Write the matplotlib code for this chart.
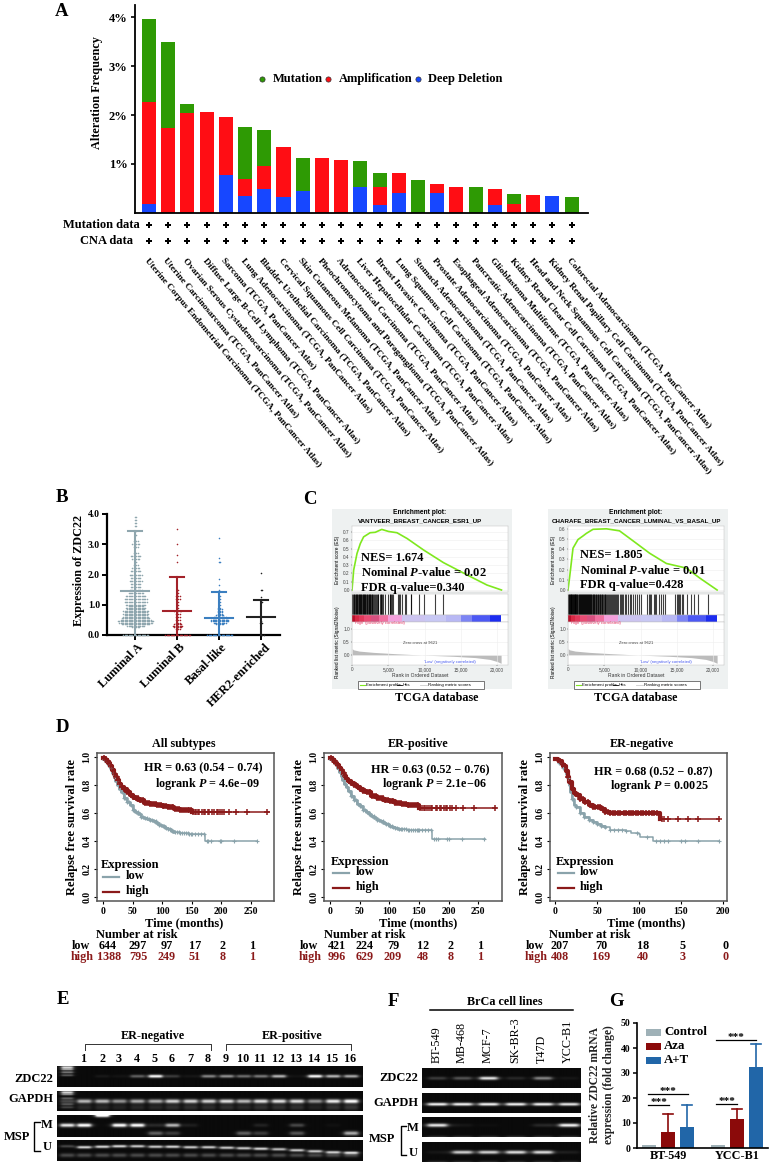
import numpy as np
import matplotlib
matplotlib.use("Agg")
import matplotlib.pyplot as plt
from matplotlib.patches import Rectangle

plt.rcParams["font.family"] = ["Liberation Serif", "DejaVu Serif"]
plt.rcParams["mathtext.fontset"] = "custom"
plt.rcParams["mathtext.rm"] = "Liberation Serif:bold"
plt.rcParams["mathtext.bfit"] = "Liberation Serif:italic:bold"
plt.rcParams["axes.unicode_minus"] = True

W, H = 770, 1168
DARKRED = "#8b1a1a"
SANS = ["Liberation Sans", "DejaVu Sans"]

# ---- A: alteration frequency
cancers = ["Uterine Corpus Endometrial Carcinoma", "Uterine Carcinosarcoma",
           "Ovarian Serous Cystadenocarcinoma", "Diffuse Large B-Cell Lymphoma",
           "Sarcoma", "Lung Adenocarcinoma", "Bladder Urothelial Carcinoma",
           "Cervical Squamous Cell Carcinoma", "Skin Cutaneous Melanoma",
           "Pheochromocytoma and Paraganglioma", "Adrenocortical Carcinoma",
           "Liver Hepatocellular Carcinoma", "Breast Invasive Carcinoma",
           "Lung Squamous Cell Carcinoma", "Stomach Adenocarcinoma",
           "Prostate Adenocarcinoma", "Esophageal Adenocarcinoma",
           "Pancreatic Adenocarcinoma", "Glioblastoma Multiforme",
           "Kidney Renal Clear Cell Carcinoma", "Head and Neck Squamous Cell Carcinoma",
           "Kidney Renal Papillary Cell Carcinoma", "Colorectal Adenocarcinoma"]
deep_del = [0.18, 0, 0, 0, 0.77, 0.34, 0.48, 0.33, 0.44, 0, 0, 0.53, 0.17, 0.40, 0, 0.40, 0, 0, 0.16, 0, 0, 0.34, 0]
amplif = [2.08, 1.74, 2.04, 2.07, 1.18, 0.35, 0.48, 1.01, 0, 1.12, 1.09, 0, 0.37, 0.41, 0, 0.20, 0.54, 0, 0.33, 0.19, 0.37, 0, 0]
mutation = [1.69, 1.76, 0.18, 0, 0, 1.07, 0.73, 0, 0.68, 0, 0, 0.53, 0.28, 0, 0.67, 0, 0, 0.54, 0, 0.20, 0, 0, 0.33]

# ---- B: expression per subtype (level, dots at that level)
subtypes = ["Luminal A", "Luminal B", "Basal-like", "HER2-enriched"]
sub_colors = ["#8fa6ae", "#a3222a", "#3b7fc0", "#222222"]
lum_a_levels = [0, .25, .3, .35, .4, .45, .5, .55, .6, .65, .7, .75, .8, .85, .9, .95, 1.0, 1.1, 1.2, 1.3, 1.4, 1.5, 1.6, 1.7, 1.8, 1.9, 2.0, 2.1, 2.2, 2.3, 2.4, 2.5, 2.6, 2.7, 2.9, 3.0, 3.1, 3.3, 3.45, 3.6, 3.7, 3.8, 3.9]
lum_a_counts = [20, 6, 14, 22, 26, 28, 24, 22, 20, 18, 20, 18, 20, 14, 16, 12, 16, 18, 18, 16, 12, 10, 8, 8, 10, 8, 10, 8, 6, 4, 2, 6, 8, 4, 4, 6, 4, 2, 3, 2, 2, 2, 2]
lum_b_levels = [0, .2, .25, .3, .35, .4, .5, .6, .7, .8, .9, 1.0, 1.1, 1.2, 1.3, 1.4, 1.5, 2.4, 2.65, 3.0, 3.5]
lum_b_counts = [20, 4, 6, 8, 6, 4, 4, 4, 4, 6, 2, 2, 2, 4, 4, 2, 2, 1, 1, 1, 1]
basal_levels = [0, .35, .4, .45, .5, .55, .6, .65, .7, .75, .8, .85, .9, 1.0, 1.1, 1.2, 1.3, 1.5, 1.65, 1.85, 2.4, 2.55, 3.2]
basal_counts = [20, 6, 10, 14, 14, 12, 10, 6, 4, 4, 4, 4, 3, 2, 2, 2, 2, 1, 1, 1, 2, 1, 1]
her2_levels = [0, .4, .45, .6, 1.1, 1.25, 1.5, 2.05]
her2_counts = [4, 3, 1, 1, 2, 1, 2, 1]
sub_means = [1.45, 0.78, 0.56, 0.58]
sub_tops = [3.43, 1.92, 1.42, 1.17]

# ---- C: GSEA curves
es1_rank = [0, 230, 690, 1150, 1600, 2500, 3200, 4100, 5050, 6200, 7600, 9900, 12600, 15900, 18600, 20600]
es1_val = [0, .24, .44, .56, .64, .69, .695, .73, .705, .69, .62, .48, .33, .18, .06, 0]
es2_rank = [0, 230, 690, 1380, 2070, 2530, 3450, 5290, 7100, 9000, 11260, 13560, 16300, 18200, 20550]
es2_val = [0, .13, .41, .495, .53, .555, .595, .60, .58, .48, .36, .26, .215, .115, 0]
hits1 = [60, 150, 230, 300, 420, 500, 560, 640, 700, 780, 900, 960, 1040, 1130, 1180, 1260, 1400, 1450, 1530, 1600, 1700, 1780, 1850, 1900, 2000, 2080, 2150, 2280, 2350, 2420, 2500, 2650, 2700, 2780, 2900, 3000, 3200, 3250, 3380, 3600, 3650, 3900, 3980, 4050, 4200, 4250, 4500, 4950, 5200, 5280, 5400, 5500, 5600, 6300, 6500, 6600, 6950, 7300, 7400, 8100, 8200, 9200, 9980, 11400, 12500]
hits2 = [40, 100, 170, 230, 290, 360, 420, 480, 540, 600, 660, 720, 780, 850, 900, 960, 1030, 1090, 1160, 1210, 1300, 1420, 1480, 1550, 1620, 1680, 1750, 1810, 1880, 1950, 2010, 2080, 2150, 2220, 2290, 2350, 2420, 2500, 2570, 2640, 2700, 2780, 2850, 2920, 3000, 3070, 3150, 3220, 3300, 3380, 3450, 3530, 3620, 3700, 3800, 3900, 3980, 4070, 4150, 4250, 4350, 4430, 4520, 4620, 4700, 4800, 4950, 5050, 5150, 5250, 5400, 5520, 5650, 5780, 5900, 6050, 6180, 6300, 6450, 6600, 6700, 6900, 7100, 7350, 7450, 7600, 7900, 8050, 8300, 8500, 8750, 9000, 9300, 9450, 9800, 10000, 10900, 11100, 11300, 11500, 11800, 12000, 12150, 12500, 12800, 13100, 13300, 14800, 15000, 15150, 15300, 15500, 15700, 15900, 16400, 16900, 17400, 17900, 19300]
band_edges = [0, 400, 1000, 1700, 2600, 3700, 5000, 6900, 10000, 13000, 15000, 16500, 19000, 20600]
band_colors = ["#b8102a", "#d82844", "#e0385a", "#e84c74", "#d85080", "#f070a0", "#f4a0dc", "#ccc4f0", "#c8c8f4", "#b8b8f4", "#7c84f4", "#4c58f4", "#1c2cf0"]
metric_rank = [0, 200, 1000, 3000, 6000, 9621, 14000, 17000, 19000, 20000, 20550]
metric_val = [.25, .2, .15, .1, .05, 0, -.05, -.1, -.17, -.25, -.32]

# ---- D: survival curves
km_t = [0, 3, 6, 9, 12, 15, 18, 21, 24, 27, 30, 35, 40, 45, 50, 55, 60, 65, 70, 75, 80, 85, 90, 95, 100, 105, 110, 115, 120, 130, 145, 171, 172, 261]
all_low = [.99, .98, .965, .945, .92, .89, .86, .83, .80, .775, .75, .71, .68, .655, .625, .605, .59, .575, .565, .555, .55, .54, .53, .515, .505, .495, .485, .47, .465, .455, .45, .45, .40, .40]
pos_low = [.99, .985, .97, .95, .925, .895, .865, .84, .81, .785, .76, .72, .69, .665, .65, .625, .605, .595, .58, .565, .55, .54, .53, .52, .51, .50, .49, .485, .485, .48, .48, .48, .415, .415]
km_th = [0, 3, 6, 9, 12, 15, 18, 21, 24, 27, 30, 35, 40, 45, 50, 55, 60, 70, 80, 90, 100, 110, 120, 130, 145, 150, 280]
all_high = [.995, .985, .975, .955, .935, .905, .88, .855, .835, .81, .79, .77, .75, .73, .715, .705, .695, .675, .665, .655, .65, .64, .63, .625, .625, .605, .605]
pos_high = [.995, .985, .975, .96, .945, .925, .905, .885, .865, .845, .83, .815, .80, .79, .775, .76, .75, .72, .705, .695, .685, .67, .665, .66, .655, .635, .635]
neg_low_t = [0, 3, 5, 8, 10, 13, 15, 17, 18, 20, 23, 25, 30, 35, 40, 45, 50, 55, 60, 65, 85, 90, 100, 101, 115, 117, 195]
neg_low = [.99, .98, .96, .94, .92, .88, .85, .80, .75, .70, .66, .64, .60, .57, .55, .535, .52, .51, .50, .48, .47, .455, .45, .43, .43, .40, .40]
neg_high_t = [0, 3, 5, 8, 10, 13, 15, 17, 20, 23, 25, 30, 35, 40, 45, 50, 55, 60, 65, 70, 120, 125, 195]
neg_high = [.99, .98, .97, .95, .94, .90, .86, .82, .77, .745, .73, .70, .68, .66, .645, .64, .63, .61, .60, .60, .60, .56, .56]
marks_early = [2, 5, 8, 11, 14, 17, 20, 23, 26, 29, 32, 35, 38, 41, 44, 47, 50, 53, 56, 59, 62, 65, 68, 71, 74, 77, 80, 83, 86, 89, 92, 95, 98, 101, 104, 107, 110, 113, 116, 119, 122, 125, 128, 131, 134, 137, 140, 143, 146, 149]
marks_high_tail = [152, 155, 158, 160, 163, 167, 170, 172, 178, 180, 185, 188, 192, 195, 198, 202, 205, 213, 225, 243, 278]
marks_low_tail = [150, 155, 160, 165, 170, 175, 178, 182, 197, 200, 222, 260]
neg_marks_high = [3, 6, 9, 12, 15, 18, 21, 24, 27, 30, 33, 36, 39, 42, 45, 48, 51, 54, 57, 60, 63, 66, 69, 72, 75, 78, 82, 85, 88, 90, 93, 96, 99, 102, 105, 108, 112, 115, 118, 121, 128, 130, 135, 147, 158, 170, 195]
neg_marks_low = [5, 10, 15, 20, 25, 30, 35, 40, 45, 50, 55, 60, 65, 70, 75, 80, 85, 98, 110, 120, 125, 130, 135, 150, 155, 170, 195]
months = [0, 50, 100, 150, 200, 250]
all_risk_low = ["644", "297", "97", "17", "2", "1"]
all_risk_high = ["1388", "795", "249", "51", "8", "1"]
pos_risk_low = ["421", "224", "79", "12", "2", "1"]
pos_risk_high = ["996", "629", "209", "48", "8", "1"]
neg_risk_low = ["207", "70", "18", "5", "0"]
neg_risk_high = ["408", "169", "40", "3", "0"]

# ---- E/F: band intensities per lane (lane 0 in E is the first unnumbered well)
e_zdc22 = [0, 0, .06, .04, .35, 1, .2, .05, .5, .55, .4, .45, .7, .03, 1, .7, .65]
e_gapdh = [.25, .7, .7, .55, .65, .65, .8, .8, .8, .85, .7, .85, .85, .85, .55, .9, 1]
e_msp_m = [.9, 1, 0, 1, 1, .12, .7, .08, 0, 0, 0, .1, 0, .25, 0, .03, 0]
e_msp_low = [0, 0, 0, 0, 0, .35, .2, 0, 0, 0, .35, .2, 0, .3, 0, 0, .65]
e_msp_u = [.25, .85, .85, .85, .8, .8, .85, .8, .8, .8, .8, .85, .75, .8, .8, .8, .85]
f_lines = ["BT-549", "MB-468", "MCF-7", "SK-BR-3", "T47D", "YCC-B1"]
f_zdc22 = [.2, .3, .9, .12, .5, .05]
f_gapdh = [.95, .95, .95, .95, .95, .9]
f_msp_m = [.9, .05, .02, 0, .12, .95]
f_msp_u = [.05, .8, .8, .85, .85, .08]

# ---- G: qPCR
g_groups = ["BT-549", "YCC-B1"]
g_treat = ["Control", "Aza", "A+T"]
g_colors = ["#9fb1b7", "#8b0a0a", "#2166a8"]
g_means = [[1.1, 6.3, 8.6], [1.1, 11.8, 32.3]]
g_tops = [[1.1, 13.8, 17.2], [1.1, 15.8, 41.8]]

fig = plt.figure(figsize=(W / 100, H / 100), dpi=100)


def px_axes(x0, y0, x1, y1, **kw):
    return fig.add_axes([x0 / W, 1 - y1 / H, (x1 - x0) / W, (y1 - y0) / H], **kw)


# full page layers, one below the plots and one above for labels
bg = px_axes(0, 0, W, H, zorder=0)
bg.set_xlim(0, W); bg.set_ylim(H, 0); bg.axis("off")
ov = px_axes(0, 0, W, H, zorder=10)
ov.set_xlim(0, W); ov.set_ylim(H, 0); ov.axis("off")
ov.patch.set_alpha(0)


def label(x, y, s, size=8.5, ha="center", va="center", weight="bold", **kw):
    return ov.text(x, y, s, fontsize=size, ha=ha, va=va, fontweight=weight, **kw)


for s, x, y in [("A", 62, 11), ("B", 62, 498), ("C", 310, 500), ("D", 62, 727),
                ("E", 63, 1000), ("F", 393, 1002), ("G", 616, 1002)]:
    label(x, y, s, size=13.5)

# ---------- panel A
ax = px_axes(134.5, 5, 588, 213, zorder=2)
xs = np.arange(len(cancers))
dd, am, mu = np.array(deep_del), np.array(amplif), np.array(mutation)
ax.bar(xs, dd, 0.73, color="#1747ff")
ax.bar(xs, am, 0.73, bottom=dd, color="#ff0d14")
ax.bar(xs, mu, 0.73, bottom=dd + am, color="#2e9a04")
ax.set_xlim(-0.755, 22.85)
ax.set_ylim(0, 208 / 49)
ax.set_yticks([1, 2, 3, 4])
ax.set_yticklabels(["1%", "2%", "3%", "4%"], fontweight="bold", fontsize=9)
ax.set_xticks([])
for sp in ["top", "right"]:
    ax.spines[sp].set_visible(False)
for sp in ["left", "bottom"]:
    ax.spines[sp].set_linewidth(1.3)
ax.tick_params(axis="y", length=3, width=1.2, pad=2)
label(97, 93, "Alteration Frequency", size=8.8, rotation=90)
trans = ax.get_xaxis_transform()
for y_px in [225, 241]:
    ax.plot(xs, [(213 - y_px) / 208] * len(xs), ls="", marker="P", ms=4.5, color="black",
            mew=0, transform=trans, clip_on=False)
for i, name in enumerate(cancers):
    ax.text(i - 0.16, (213 - 259) / 208, name + " (TCGA, PanCancer Atlas)", transform=trans,
            rotation=-50, rotation_mode="anchor", ha="left", va="center",
            fontsize=6.75, fontweight="bold")
label(140, 225, "Mutation data", ha="right", size=9)
label(133, 241, "CNA data", ha="right", size=9)
for x, col, txt in [(262, "#2e9a04", "Mutation"), (328, "#ff0d14", "Amplification"), (418, "#1747ff", "Deep Deletion")]:
    ov.scatter([x], [79], s=14, color=col, edgecolor="#333333", linewidth=0.5)
    label(x + 10.5, 79, txt, ha="left", size=9)

# ---------- panel B
ax = px_axes(107, 514, 280, 635, zorder=2)
groups = [(lum_a_levels, lum_a_counts), (lum_b_levels, lum_b_counts),
          (basal_levels, basal_counts), (her2_levels, her2_counts)]
for i, (levels, counts) in enumerate(groups):
    for lev, n in zip(levels, counts):
        offs = np.array([(k + 1) // 2 * (1 if k % 2 else -1) for k in range(n)]) * 1.3 / 42
        ax.scatter(i + offs, [lev] * n, s=1.3, color=sub_colors[i], linewidth=0, zorder=4, clip_on=False)
    ax.plot([i, i], [0, sub_tops[i]], color=sub_colors[i], lw=1.5, zorder=3, clip_on=False)
    ax.plot([i - .17, i + .17], [sub_tops[i]] * 2, color=sub_colors[i], lw=1.5, zorder=3)
    ax.plot([i - .34, i + .34], [sub_means[i]] * 2, color=sub_colors[i], lw=1.5, zorder=3)
ax.set_xlim((107 - 135) / 42, (280 - 135) / 42)
ax.set_ylim(0, 4)
ax.set_yticks([0, 1, 2, 3, 4])
ax.set_yticklabels(["0.0", "1.0", "2.0", "3.0", "4.0"], fontsize=7, fontweight="bold")
ax.set_xticks(range(4))
ax.set_xticklabels([])
ax.patch.set_alpha(0)
for sp in ["top", "right"]:
    ax.spines[sp].set_visible(False)
for sp in ["left", "bottom"]:
    ax.spines[sp].set_linewidth(1.6)
ax.tick_params(length=3.5, width=1.4, pad=1.5)
label(79, 570, "Expression of ZDC22", size=8.7, rotation=90)
for x, name in zip([137, 179, 221, 265], subtypes):
    label(x, 641, name, size=9, ha="right", va="top", rotation=45, rotation_mode="anchor")


# ---------- panel C
def gsea(dx, rank, es, hits, es_ticks, es_per_px, title):
    bg.add_patch(Rectangle((332 + dx, 509), 180, 180, color="#eef1f1", lw=0))
    r_max = 21500
    top = px_axes(352 + dx, 526, 508 + dx, 592, zorder=2)
    top.plot(rank, es, color="#7fe81e", lw=1.2)
    top.set_xlim(0, r_max)
    top.set_ylim(-2 * es_per_px, 64 * es_per_px)
    top.set_yticks(es_ticks)
    top.set_yticklabels(["%.1f" % v for v in es_ticks], fontsize=3.4, family=SANS, color="#444444")
    top.set_xticks([])
    top.grid(color="#eeeeee", lw=0.4)
    strip = px_axes(352 + dx, 594, 508 + dx, 615, zorder=2)
    strip.vlines(hits, 0, 1, color="black", lw=0.8, alpha=0.75)
    strip.set_xlim(0, r_max); strip.set_ylim(0, 1)
    strip.set_xticks([]); strip.set_yticks([])
    band = px_axes(352 + dx, 615, 508 + dx, 622, zorder=2)
    for k, c in enumerate(band_colors):
        band.barh(0, band_edges[k + 1] - band_edges[k], 1, left=band_edges[k], color=c, lw=0)
    band.set_xlim(0, r_max); band.set_ylim(-.5, .5)
    band.set_xticks([]); band.set_yticks([])
    low = px_axes(352 + dx, 622, 508 + dx, 665, zorder=2)
    low.fill_between(metric_rank, metric_val, 0, color="#bcbcbc", lw=0)
    low.set_xlim(0, r_max)
    low.set_ylim(-10 / 26, 33 / 26)
    low.set_yticks([0, .5, 1])
    low.set_yticklabels(["0.0", "0.5", "1.0"], fontsize=3.4, family=SANS, color="#444444")
    low.set_xticks([0, 5000, 10000, 15000, 20000])
    low.set_xticklabels(["0", "5,000", "10,000", "15,000", "20,000"], fontsize=3.4, family=SANS, color="#444444")
    low.grid(color="#eeeeee", lw=0.4)
    for a in [top, strip, band, low]:
        a.tick_params(length=1, width=0.3, pad=0.6)
        for sp in a.spines.values():
            sp.set_linewidth(0.3)
            sp.set_color("#bbbbbb")
    label(420 + dx, 513, "Enrichment plot:", size=4.8, family=SANS)
    label(420 + dx, 521, title, size=4.5, family=SANS)
    label(338 + dx, 560, "Enrichment score (ES)", size=3.4, rotation=90, family=SANS, weight="normal")
    label(338 + dx, 642, "Ranked list metric (Signal2Noise)", size=3.4, rotation=90, family=SANS, weight="normal")
    label(354 + dx, 623, "'High' (positively correlated)", size=3.1, ha="left", color="#e8406c", family=SANS, weight="normal")
    label(420 + dx, 643, "Zero cross at 9621", size=3, family=SANS, weight="normal", color="#444444")
    label(450 + dx, 662, "'Low' (negatively correlated)", size=3.1, color="#4a5cf0", family=SANS, weight="normal")
    label(420 + dx, 675.5, "Rank in Ordered Dataset", size=3.6, family=SANS, weight="normal", color="#333333")
    ov.add_patch(Rectangle((358 + dx, 681), 126, 7.5, fc="white", ec="#444444", lw=0.5))
    ov.plot([360 + dx, 365 + dx], [684.7] * 2, color="#7fe81e", lw=0.8)
    label(366 + dx, 684.7, "Enrichment profile", size=3.2, ha="left", family=SANS, weight="normal")
    ov.plot([397 + dx, 402 + dx], [684.7] * 2, color="black", lw=0.6)
    label(403 + dx, 684.7, "Hits", size=3.2, ha="left", family=SANS, weight="normal")
    ov.plot([420 + dx, 427 + dx], [684.7] * 2, color="#cccccc", lw=0.6)
    label(428 + dx, 684.7, "Ranking metric scores", size=3.2, ha="left", family=SANS, weight="normal")
    label(437 + dx * 199 / 216, 698, "TCGA database", size=8.7)


gsea(0, es1_rank, es1_val, hits1, [0, .1, .2, .3, .4, .5, .6, .7], .1 / 8.3, "VANTVEER_BREAST_CANCER_ESR1_UP")
gsea(216, es2_rank, es2_val, hits2, [0, .1, .2, .3, .4, .5, .6], .1 / 10.2, "CHARAFE_BREAST_CANCER_LUMINAL_VS_BASAL_UP")
for x, y0, txt in [(361, 558, ("NES= 1.674", "0.02", "0.340")), (580, 555, ("NES= 1.805", "0.01", "0.428"))]:
    label(x, y0, txt[0], size=9, ha="left")
    label(x, y0 + 15, r"Nominal $\mathbfit{P}$-value = " + txt[1], size=9, ha="left")
    label(x, y0 + 30, "FDR q-value=" + txt[2], size=9, ha="left")


# ---------- panel D
def step_at(t, s, when):
    idx = np.searchsorted(t, when, side="right") - 1
    return np.array(s)[idx]


def km(box, xlim, xticks, t_low, s_low, t_high, s_high, m_low, m_high, cut_low, cut_high):
    ax = px_axes(*box, zorder=2)
    # censor ticks are so dense early on that the curves read as thick bands
    k = np.array(t_low) <= cut_low
    ax.step(t_low, s_low, where="post", color="#8aa3ab", lw=1.1)
    ax.step(np.array(t_low)[k], np.array(s_low)[k], where="post", color="#8aa3ab", lw=1.9)
    k = np.array(t_high) <= cut_high
    ax.step(t_high, s_high, where="post", color=DARKRED, lw=1.1)
    ax.step(np.array(t_high)[k], np.array(s_high)[k], where="post", color=DARKRED, lw=3)
    ax.plot(m_low, step_at(t_low, s_low, m_low), ls="", marker="+", ms=3, mew=0.8, color="#8aa3ab")
    ax.plot(m_high, step_at(t_high, s_high, m_high), ls="", marker="+", ms=4.5, mew=1.1, color=DARKRED)
    ax.set_xlim(*xlim)
    ax.set_ylim(-0.03, 1.03)
    ax.set_xticks(xticks)
    ax.set_xticklabels([str(v) for v in xticks], fontsize=7, fontweight="bold")
    ax.set_yticks([0, .2, .4, .6, .8, 1])
    ax.set_yticklabels(["0.0", "0.2", "0.4", "0.6", "0.8", "1.0"], fontsize=7, fontweight="bold", rotation=90, va="center")
    ax.tick_params(length=2.5, width=0.8, pad=1.5)
    for sp in ax.spines.values():
        sp.set_linewidth(1.1)
        sp.set_color("#555555")
    ax.set_ylabel("Relapse free survival rate", fontsize=9, fontweight="bold", labelpad=3)
    return ax


y_box = (753, 901)
km((97, y_box[0], 274, y_box[1]), (-10, 289), months, km_t, all_low, km_th, all_high,
   marks_early + marks_low_tail, marks_early + marks_high_tail, 120, 150)
km((324, y_box[0], 502, y_box[1]), (-10, 290), months, km_t, pos_low, km_th, pos_high,
   marks_early + marks_low_tail, marks_early + marks_high_tail, 120, 150)
km((550, y_box[0], 727, y_box[1]), (-6, 205), months[:-1], neg_low_t, neg_low, neg_high_t, neg_high,
   neg_marks_low, neg_marks_high, 60, 125)

d_text = [
    (184, "All subtypes", 203, 768, "HR = 0.63 (0.54 \u2212 0.74)", 207, 784, r"logrank $\mathbfit{P}$ = 4.6e" + "\u221209"),
    (418, "ER-positive", 430, 770, "HR = 0.63 (0.52 \u2212 0.76)", 434, 784, r"logrank $\mathbfit{P}$ = 2.1e" + "\u221206"),
    (642, "ER-negative", 653, 772, "HR = 0.68 (0.52 \u2212 0.87)", 659, 786, r"logrank $\mathbfit{P}$ = 0.0025"),
]
for tx, title, hx, hy, hr, lx, ly, lr in d_text:
    label(tx, 744, title, size=8.7)
    label(hx, hy, hr, size=8.7)
    label(lx, ly, lr, size=8.7)
for x_e, y_e, y_l, y_h, x_t, cx, x_no in [(101, 865, 877, 892, 126, 184, 137),
                                          (331, 862, 873, 888, 356, 418, 365),
                                          (556, 862, 873, 888, 580, 646, 590)]:
    label(x_e, y_e, "Expression", size=9, ha="left")
    ov.plot([x_e + 2, x_e + 18], [y_l, y_l], color="#8aa3ab", lw=1.6)
    ov.plot([x_e + 2, x_e + 18], [y_h, y_h], color=DARKRED, lw=1.6)
    label(x_t, y_l - 1, "low", size=9, ha="left")
    label(x_t, y_h - 1, "high", size=9, ha="left")
    label(cx, 923, "Time (months)", size=9)
    label(x_no, 935, "Number at risk", size=9)
risk_tables = [(81, [108, 138, 167, 195, 223, 253], all_risk_low, all_risk_high),
               (309, [337, 365, 393, 423, 451, 481], pos_risk_low, pos_risk_high),
               (535, [560, 601, 643, 683, 726], neg_risk_low, neg_risk_high)]
for x_lab, cols, r_low, r_high in risk_tables:
    label(x_lab, 946, "low", size=8.7)
    label(x_lab + 1, 957, "high", size=8.7, color=DARKRED)
    for x, a, b in zip(cols, r_low, r_high):
        label(x, 946, a, size=8.7)
        label(x + (1 if len(b) == 4 else 0), 957, b, size=8.7, color=DARKRED)


# ---------- panels E and F: gel rows
def gel(box, bands, base=0.04):
    x0, y0, x1, y1 = box
    xx, yy = np.meshgrid(np.arange(x0, x1, 0.5), np.arange(y0, y1, 0.5))
    img = np.full(xx.shape, base)
    for x, y, amp, hw, sy in bands:
        img += amp * np.exp(-((yy - y) / sy) ** 2) / (1 + ((xx - x) / hw) ** 6)
    ax = px_axes(x0, y0, x1, y1, zorder=2)
    ax.imshow(np.clip(img, 0, 1), cmap="gray", vmin=0, vmax=1, aspect="auto", interpolation="bilinear")
    ax.axis("off")


e_x = [67, 84, 102, 119, 137, 155, 172, 190, 208, 226, 243, 260, 278, 296, 314, 332, 350]
ladder1 = [(67, y, a, 6, 1) for y, a in [(1067, .9), (1069, .7), (1072, .5), (1075, .35)]]
ladder2 = [(67, y, a, 6, 1) for y, a in [(1092, .9), (1094, .6), (1098, .35), (1104, .3), (1107, .2)]]
e_u_y = [1146, 1147, 1146.5, 1146, 1146, 1146.5, 1146.5, 1147, 1147, 1147.5, 1148, 1148.5, 1149, 1150, 1151, 1152, 1152.5]
rows_e = [
    ((57, 1066, 362, 1087), ladder1 + [(x, 1076, a, 7, 1.5) for x, a in zip(e_x, e_zdc22)]),
    ((57, 1091, 362, 1111), ladder2 + [(x, 1101, a, 7, 2) for x, a in zip(e_x, e_gapdh)]
     + [(x, 1107, a * .18, 7, 3) for x, a in zip(e_x, e_gapdh)]),
    ((57, 1115, 362, 1137), [(x, 1125, a, 7, 1.8) for x, a in zip(e_x, e_msp_m)]
     + [(x, 1133, a, 7, 2) for x, a in zip(e_x, e_msp_low)] + [(102, 1115, 1.2, 7, 1.8)]),
    ((57, 1140, 362, 1161), [(x, y, a, 7, 1.3) for x, y, a in zip(e_x, e_u_y, e_msp_u)]
     + [(x, 1155, .25, 7, 2) for x in e_x]),
]
for box, bands in rows_e:
    gel(box, bands)

f_x = [437, 462, 488, 515, 542, 568]
rows_f = [
    ((422, 1068, 580, 1088), [(x, 1078, a, 9, 1.6) for x, a in zip(f_x, f_zdc22)]),
    ((422, 1093, 580, 1113), [(x, 1104, a, 10, 1.5) for x, a in zip(f_x, f_gapdh)]),
    ((422, 1117, 580, 1137), [(x, 1125, a, 10, 1.7) for x, a in zip(f_x, f_msp_m)]
     + [(x, 1137, .18, 10, 1.5) for x in f_x]),
    ((422, 1142, 580, 1162), [(x, 1152, a, 10, 1.7) for x, a in zip(f_x, f_msp_u)]
     + [(x, 1162, .15, 10, 1.5) for x in f_x]),
]
for box, bands in rows_f:
    gel(box, bands)

# lane numbers and brackets for E
for i, x in enumerate(e_x[1:]):
    label(x, 1059, str(i + 1), size=8.7)
label(153, 1036, "ER-negative", size=8.7)
label(292, 1036, "ER-positive", size=8.7)
for x0, x1 in [(85, 211), (226, 351)]:
    ov.plot([x0, x0, x1, x1], [1050, 1043.5, 1043.5, 1050], color="#333333", lw=0.7)
label(53, 1079, "ZDC22", ha="right", size=9)
label(53, 1099, "GAPDH", ha="right", size=9)
label(30, 1137, "MSP", ha="right", size=9)
ov.plot([40, 33.5, 33.5, 40], [1122, 1122, 1151, 1151], color="black", lw=1)
label(47, 1125, "M", size=9)
label(47, 1147, "U", size=9)

label(505, 1002, "BrCa cell lines", size=8.7)
ov.plot([430, 573], [1010, 1010], color="black", lw=1.1)
for x, name in zip(f_x, f_lines):
    label(x, 1063, name, size=8.7, rotation=90, va="bottom", weight="normal")
label(418, 1078, "ZDC22", ha="right", size=9)
label(418, 1103, "GAPDH", ha="right", size=9)
label(395, 1139, "MSP", ha="right", size=9)
ov.plot([406, 400.5, 400.5, 406], [1126, 1126, 1155, 1155], color="black", lw=1)
label(413, 1128, "M", size=9)
label(413, 1153, "U", size=9)

# ---------- panel G
ax = px_axes(637, 1023, 768, 1148, zorder=2)
for g in range(2):
    for k in range(3):
        x = g + (k - 1) * 0.275
        ax.bar(x, g_means[g][k], 0.2, color=g_colors[k])
        if g_tops[g][k] > g_means[g][k]:
            ax.plot([x, x], [g_means[g][k], g_tops[g][k]], color=g_colors[k], lw=1.2)
            ax.plot([x - .07, x + .07], [g_tops[g][k]] * 2, color=g_colors[k], lw=1.2)
ax.set_xlim(-.449, 1.449)
ax.set_ylim(0, 50)
ax.set_yticks(range(0, 51, 10))
ax.set_yticklabels([str(v) for v in range(0, 51, 10)], fontsize=7, fontweight="bold")
ax.set_xticks([0, 1])
ax.set_xticklabels(g_groups, fontsize=8.7, fontweight="bold")
ax.tick_params(axis="y", length=3, width=1.1, pad=1.5)
ax.tick_params(axis="x", length=0, pad=1.5)
for sp in ["top", "right"]:
    ax.spines[sp].set_visible(False)
for sp in ["left", "bottom"]:
    ax.spines[sp].set_linewidth(1.2)
for i, (name, c) in enumerate(zip(g_treat, g_colors)):
    y = 1032 + i * 14
    ov.add_patch(Rectangle((646, y - 3.5), 15, 7, color=c, lw=0))
    label(664, y, name, ha="left", size=9.3)
label(595, 1085, "Relative ZDC22 mRNA", size=8.3, rotation=90, color="#222222")
label(609, 1085, "expression (fold change)", size=8.3, rotation=90, color="#222222")
for x0, x1, y in [(648, 669, 1105), (648, 688, 1094), (716, 737, 1104), (716, 756, 1040)]:
    ov.plot([x0, x1], [y, y], color="black", lw=0.9)
    label((x0 + x1) / 2, y - 2.5, "***", size=8)

fig.savefig("out.png", dpi=100)
